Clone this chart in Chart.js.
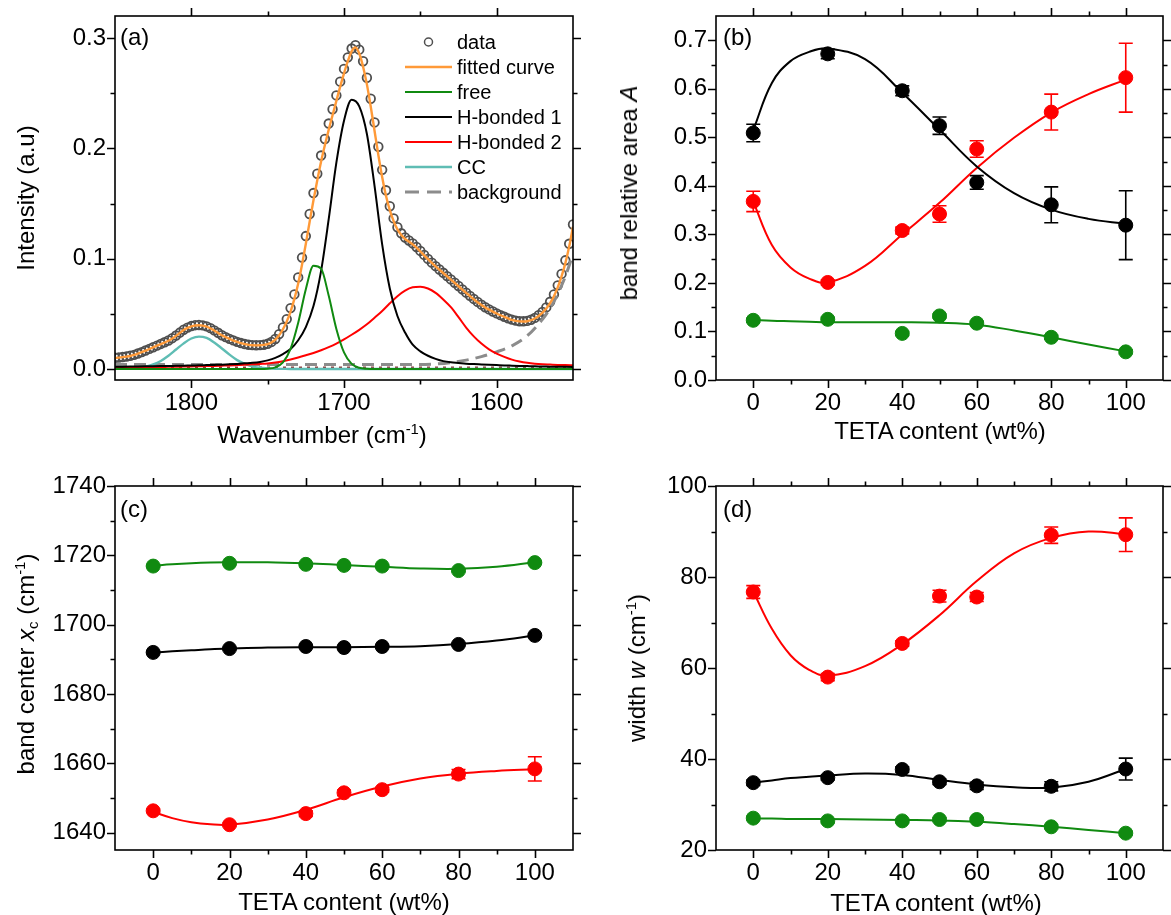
<!DOCTYPE html>
<html>
<head>
<meta charset="utf-8">
<script src="https://cdn.jsdelivr.net/npm/chart.js@4.4.1/dist/chart.umd.min.js"></script>
<style>
  body { margin: 0; background: #fff; }
  #fig { position: relative; width: 1171px; height: 915px; overflow: hidden; background: #fff;
         font-family: 'Liberation Sans', Arial, sans-serif; color: #000; }
  #fig canvas { position: absolute; }
  .lbl { position: absolute; font-size: 24px; line-height: 1; white-space: nowrap; }
  .xt { transform: translate(-50%, -50%); }
  .yt { transform: translate(-50%, -50%) rotate(-90deg); }
  .lbl sup, .lbl sub { font-size: 0.62em; line-height: 0; }
  .lbl sup { vertical-align: 0.6em; }
  .lbl sub { vertical-align: -0.3em; }
  #legend { position: absolute; left: 405px; top: 29px; font-size: 20px; line-height: 1; }
  #legend div { height: 25px; display: flex; align-items: center; white-space: nowrap; }
  #legend svg { margin-right: 5px; flex: none; }
</style>
</head>
<body>
<div id="fig">
  <canvas id="chartA" width="585" height="460" style="left:0;top:-10px"></canvas>
  <canvas id="chartB" width="586" height="460" style="left:585px;top:-10px"></canvas>
  <canvas id="chartC" width="585" height="465" style="left:0;top:450px"></canvas>
  <canvas id="chartD" width="586" height="465" style="left:585px;top:450px"></canvas>

  <div class="lbl xt" style="left:322px;top:435px">Wavenumber (cm<sup>-1</sup>)</div>
  <div class="lbl yt" style="left:26px;top:198px">Intensity (a.u)</div>
  <div class="lbl xt" style="left:940px;top:431px">TETA content (wt%)</div>
  <div class="lbl yt" style="left:629px;top:193px">band relative area <i>A</i></div>
  <div class="lbl xt" style="left:344px;top:902px">TETA content (wt%)</div>
  <div class="lbl yt" style="left:26px;top:664px">band center <i>x</i><sub>c</sub> (cm<sup>-1</sup>)</div>
  <div class="lbl xt" style="left:936px;top:903px">TETA content (wt%)</div>
  <div class="lbl yt" style="left:637px;top:668px">width <i>w</i> (cm<sup>-1</sup>)</div>

  <div class="lbl" style="left:120px;top:25px">(a)</div>
  <div class="lbl" style="left:723px;top:25px">(b)</div>
  <div class="lbl" style="left:120px;top:497px">(c)</div>
  <div class="lbl" style="left:723px;top:497px">(d)</div>

  <div id="legend"></div>
</div>

<script>
const FONT = "'Liberation Sans', Arial, sans-serif";

// ---------- (a) spectrum ----------
// wavenumber grids (cm-1), high to low
const wnFine = [];
for (let w = 1850; w >= 1550; w -= 2.5) wnFine.push(w);
const wnCoarse = [];
for (let w = 1850; w >= 1550; w -= 5) wnCoarse.push(w);

const measured = [
  0.0102, 0.0104, 0.0108, 0.0113, 0.0120, 0.0128, 0.0140, 0.0153, 0.0167, 0.0182,
  0.0197, 0.0212, 0.0227, 0.0242, 0.0258, 0.0279, 0.0303, 0.0330, 0.0356, 0.0375,
  0.0389, 0.0397, 0.0399, 0.0395, 0.0386, 0.0370, 0.0350, 0.0328, 0.0306, 0.0289,
  0.0273, 0.0259, 0.0246, 0.0235, 0.0226, 0.0220, 0.0216, 0.0215, 0.0216, 0.0220,
  0.0228, 0.0245, 0.0272, 0.0316, 0.0376, 0.0452, 0.0552, 0.0676, 0.0830, 0.1010,
  0.1205, 0.1405, 0.1595, 0.1770, 0.1935, 0.2085, 0.2225, 0.2355, 0.2480, 0.2605,
  0.2720, 0.2825, 0.2905, 0.2935, 0.2895, 0.2790, 0.2640, 0.2450, 0.2235, 0.2015,
  0.1805, 0.1620, 0.1475, 0.1365, 0.1285, 0.1230, 0.1192, 0.1165, 0.1138, 0.1106,
  0.1070, 0.1034, 0.0998, 0.0964, 0.0932, 0.0902, 0.0872, 0.0842, 0.0812, 0.0782,
  0.0752, 0.0722, 0.0692, 0.0663, 0.0635, 0.0608, 0.0583, 0.0560, 0.0540, 0.0521,
  0.0504, 0.0488, 0.0473, 0.0459, 0.0447, 0.0438, 0.0433, 0.0432, 0.0436, 0.0446,
  0.0463, 0.0487, 0.0518, 0.0558, 0.0609, 0.0675, 0.0758, 0.0862, 0.0985, 0.1135,
  0.1310
];
const fitted = [
  0.0100, 0.0103, 0.0107, 0.0112, 0.0118, 0.0127, 0.0139, 0.0152, 0.0166, 0.0181,
  0.0196, 0.0211, 0.0226, 0.0240, 0.0256, 0.0276, 0.0300, 0.0327, 0.0353, 0.0372,
  0.0386, 0.0394, 0.0396, 0.0393, 0.0384, 0.0368, 0.0349, 0.0327, 0.0305, 0.0288,
  0.0272, 0.0258, 0.0245, 0.0234, 0.0225, 0.0219, 0.0215, 0.0214, 0.0215, 0.0218,
  0.0225, 0.0240, 0.0265, 0.0305, 0.0360, 0.0430, 0.0520, 0.0635, 0.0775, 0.0945,
  0.1135, 0.1335, 0.1530, 0.1710, 0.1880, 0.2030, 0.2170, 0.2300, 0.2430, 0.2560,
  0.2680, 0.2790, 0.2880, 0.2915, 0.2860, 0.2740, 0.2580, 0.2380, 0.2160, 0.1940,
  0.1740, 0.1570, 0.1440, 0.1340, 0.1265, 0.1215, 0.1180, 0.1155, 0.1130, 0.1100,
  0.1065, 0.1030, 0.0995, 0.0962, 0.0930, 0.0900, 0.0870, 0.0840, 0.0810, 0.0780,
  0.0750, 0.0720, 0.0690, 0.0660, 0.0632, 0.0605, 0.0580, 0.0558, 0.0538, 0.0520,
  0.0503, 0.0487, 0.0472, 0.0458, 0.0445, 0.0436, 0.0431, 0.0430, 0.0433, 0.0442,
  0.0458, 0.0480, 0.0510, 0.0548, 0.0597, 0.0660, 0.0740, 0.0840, 0.0960, 0.1110,
  0.1290
];
const bandFree = [
  0, 0, 0, 0, 0, 0, 0, 0, 0, 0,
  0, 0, 0, 0, 0, 0, 0, 0, 0, 0,
  0.0003, 0.0015, 0.0060, 0.0183, 0.0419, 0.0723, 0.0935, 0.0909, 0.0663, 0.0363,
  0.0150, 0.0046, 0.0011, 0.0002, 0, 0, 0, 0, 0, 0,
  0, 0, 0, 0, 0, 0, 0, 0, 0, 0,
  0, 0, 0, 0, 0, 0, 0, 0, 0, 0,
  0
];
const bandH1 = [
  0.0020, 0.0021, 0.0022, 0.0023, 0.0024, 0.0025, 0.0026, 0.0027, 0.0029, 0.0030,
  0.0032, 0.0033, 0.0035, 0.0037, 0.0039, 0.0042, 0.0046, 0.0051, 0.0056, 0.0064,
  0.0078, 0.0100, 0.0135, 0.0180, 0.0260, 0.0380, 0.0570, 0.0890, 0.1360, 0.1870,
  0.2250, 0.2440, 0.2380, 0.2130, 0.1660, 0.1130, 0.0730, 0.0480, 0.0330, 0.0220,
  0.0160, 0.0120, 0.0092, 0.0071, 0.0060, 0.0054, 0.0048, 0.0044, 0.0041, 0.0038,
  0.0035, 0.0032, 0.0030, 0.0028, 0.0026, 0.0024, 0.0023, 0.0021, 0.0020, 0.0019,
  0.0018
];
const bandH2 = [
  0.0012, 0.0013, 0.0014, 0.0015, 0.0016, 0.0017, 0.0018, 0.0019, 0.0020, 0.0022,
  0.0023, 0.0025, 0.0026, 0.0028, 0.0030, 0.0032, 0.0035, 0.0038, 0.0042, 0.0046,
  0.0050, 0.0058, 0.0070, 0.0086, 0.0104, 0.0124, 0.0145, 0.0170, 0.0198, 0.0230,
  0.0268, 0.0310, 0.0355, 0.0405, 0.0465, 0.0525, 0.0595, 0.0660, 0.0710, 0.0740,
  0.0745, 0.0730, 0.0690, 0.0630, 0.0560, 0.0470, 0.0375, 0.0295, 0.0230, 0.0178,
  0.0140, 0.0110, 0.0085, 0.0068, 0.0056, 0.0048, 0.0043, 0.0040, 0.0037, 0.0035,
  0.0034
];
const bandCC = [
  0.0001, 0.0002, 0.0004, 0.0009, 0.0020, 0.0041, 0.0073, 0.0120, 0.0176, 0.0232,
  0.0276, 0.0293, 0.0281, 0.0240, 0.0186, 0.0130, 0.0080, 0.0046, 0.0022, 0.0011,
  0.0005, 0.0002, 0.0001, 0, 0, 0, 0, 0, 0, 0,
  0, 0, 0, 0, 0, 0, 0, 0, 0, 0,
  0, 0, 0, 0, 0, 0, 0, 0, 0, 0,
  0, 0, 0, 0, 0, 0, 0, 0, 0, 0,
  0
];
const bgWn  = [1850, 1750, 1650, 1640, 1630, 1620, 1610, 1600, 1590, 1580, 1570, 1565, 1560, 1555, 1550];
const bgVal = [0.0040, 0.0040, 0.0040, 0.0045, 0.0058, 0.0080, 0.0112, 0.0155, 0.0210, 0.0300, 0.0450, 0.0550, 0.0680, 0.0840, 0.1040];
const baseWn  = [1850, 1550];
const baseVal = [0.0012, 0.0012];

// axis ticks for (a)
const wnMajor = [1800, 1700, 1600];
const wnMinor = [1750, 1650];
const intMajor = [0, 0.1, 0.2, 0.3];
const intMinor = [0.05, 0.15, 0.25];

// ---------- (b)-(d) band parameters vs TETA content ----------
const teta = [0, 20, 40, 50, 60, 80, 100];
const fitX = [0, 5, 10, 15, 20, 30, 40, 50, 60, 70, 80, 90, 100];

const areaFree = [0.123, 0.125, 0.096, 0.132, 0.117, 0.088, 0.058];
const areaFreeErr = [0.004, 0.004, 0.004, 0.004, 0.004, 0.004, 0.004];
const areaH1 = [0.509, 0.672, 0.596, 0.524, 0.407, 0.361, 0.319];
const areaH1Err = [0.018, 0.010, 0.010, 0.018, 0.014, 0.037, 0.071];
const areaH2 = [0.368, 0.201, 0.308, 0.342, 0.476, 0.552, 0.623];
const areaH2Err = [0.021, 0.005, 0.007, 0.017, 0.017, 0.037, 0.071];
const areaFreeFit = [0.124, 0.122, 0.121, 0.120, 0.119, 0.119, 0.119, 0.118, 0.114, 0.102, 0.088, 0.073, 0.059];
const areaH1Fit = [0.515, 0.612, 0.657, 0.676, 0.683, 0.661, 0.592, 0.516, 0.440, 0.385, 0.351, 0.332, 0.322];
const areaH2Fit = [0.3675, 0.278, 0.232, 0.209, 0.201, 0.235, 0.300, 0.365, 0.437, 0.499, 0.551, 0.589, 0.619];

const centerFree = [1716.9, 1717.7, 1717.4, 1717.1, 1716.9, 1715.6, 1717.9];
const centerFreeErr = [0.3, 0.3, 0.3, 0.3, 0.3, 0.3, 0.3];
const centerH1 = [1692.0, 1693.1, 1693.7, 1693.4, 1693.7, 1694.3, 1696.9];
const centerH1Err = [0.3, 0.3, 0.3, 0.3, 0.3, 0.4, 0.5];
const centerH2 = [1646.3, 1642.3, 1645.5, 1651.5, 1652.4, 1656.9, 1658.4];
const centerH2Err = [0.5, 0.5, 0.8, 0.8, 0.7, 1.3, 3.5];
const centerFreeFit = [1717.0, 1717.4, 1717.7, 1717.9, 1718.0, 1718.0, 1717.7, 1717.2, 1716.7, 1716.2, 1716.1, 1716.7, 1718.0];
const centerH1Fit = [1692.0, 1692.3, 1692.6, 1692.9, 1693.1, 1693.4, 1693.5, 1693.5, 1693.6, 1693.8, 1694.4, 1695.4, 1696.9];
const centerH2Fit = [1646.0, 1644.2, 1643.0, 1642.4, 1642.3, 1643.8, 1646.6, 1650.2, 1653.3, 1655.6, 1657.0, 1657.8, 1658.3];

const widthFree = [27.0, 26.4, 26.4, 26.7, 26.7, 25.1, 23.7];
const widthFreeErr = [0.4, 0.4, 0.4, 0.4, 0.4, 0.4, 0.4];
const widthH1 = [34.8, 35.9, 37.7, 35.0, 34.1, 34.0, 37.8];
const widthH1Err = [0.6, 0.5, 0.6, 0.6, 0.8, 1.0, 2.4];
const widthH2 = [76.7, 58.0, 65.4, 75.8, 75.6, 89.2, 89.3];
const widthH2Err = [1.4, 0.8, 0.6, 1.3, 1.0, 1.8, 3.7];
const widthFreeFit = [26.9, 26.9, 26.8, 26.8, 26.8, 26.7, 26.6, 26.5, 26.2, 25.7, 25.1, 24.4, 23.7];
const widthH1Fit = [34.8, 35.3, 35.8, 36.1, 36.4, 36.8, 36.5, 35.4, 34.4, 33.8, 33.7, 35.0, 37.8];
const widthH2Fit = [76.8, 68.6, 62.8, 59.6, 58.3, 60.4, 65.2, 71.6, 79.1, 85.2, 88.6, 90.0, 89.4];

const tetaMajor = [0, 20, 40, 60, 80, 100];
const tetaMinor = [10, 30, 50, 70, 90];
const areaMajor = [0, 0.1, 0.2, 0.3, 0.4, 0.5, 0.6, 0.7];
const areaMinor = [0.05, 0.15, 0.25, 0.35, 0.45, 0.55, 0.65];
const centerMajor = [1640, 1660, 1680, 1700, 1720, 1740];
const centerMinor = [1650, 1670, 1690, 1710, 1730];
const widthMajor = [20, 40, 60, 80, 100];
const widthMinor = [30, 50, 70, 90];

const BLACK = '#000000';
const RED = '#ff0000';
const GREEN = '#108a10';
const ORANGE = '#ff9a38';
const TEAL = '#5fbdb4';
const GREY = '#8c8c8c';
const DATA = '#4f4f4f';
const BROWN = '#8b3a3a';

Chart.defaults.font.family = FONT;
Chart.defaults.color = '#000';

// box frame with outward major/minor ticks on all four sides
const frameTicks = {
  id: 'frameTicks',
  afterDraw(chart, args, o) {
    const { ctx, chartArea: a } = chart;
    const xs = chart.scales.x, ys = chart.scales.y;
    ctx.save();
    ctx.strokeStyle = '#000';
    ctx.lineWidth = 1.6;
    ctx.beginPath();
    const seg = (x1, y1, x2, y2) => { ctx.moveTo(x1, y1); ctx.lineTo(x2, y2); };
    [[o.xMajor, 8], [o.xMinor, 4.5]].forEach(([vals, len]) => vals.forEach(v => {
      const p = Math.round(xs.getPixelForValue(v)) + 0.5;
      seg(p, a.bottom, p, a.bottom + len);
      seg(p, a.top, p, a.top - len);
    }));
    [[o.yMajor, 8], [o.yMinor, 4.5]].forEach(([vals, len]) => vals.forEach(v => {
      const p = Math.round(ys.getPixelForValue(v)) + 0.5;
      seg(a.left, p, a.left - len, p);
      seg(a.right, p, a.right + len, p);
    }));
    ctx.stroke();
    ctx.strokeRect(a.left, a.top, a.right - a.left, a.bottom - a.top);
    ctx.restore();
  }
};

// vertical error bars with caps, read from dataset.errors
const errorBars = {
  id: 'errorBars',
  beforeDatasetsDraw(chart) {
    const { ctx } = chart;
    const xs = chart.scales.x, ys = chart.scales.y;
    chart.data.datasets.forEach(ds => {
      if (!ds.errors) return;
      ctx.save();
      ctx.strokeStyle = ds.borderColor;
      ctx.lineWidth = 1.6;
      ctx.beginPath();
      ds.data.forEach((pt, i) => {
        const e = ds.errors[i];
        const px = xs.getPixelForValue(pt.x);
        const top = ys.getPixelForValue(pt.y + e);
        const bot = ys.getPixelForValue(pt.y - e);
        ctx.moveTo(px, top); ctx.lineTo(px, bot);
        ctx.moveTo(px - 7, top); ctx.lineTo(px + 7, top);
        ctx.moveTo(px - 7, bot); ctx.lineTo(px + 7, bot);
      });
      ctx.stroke();
      ctx.restore();
    });
  }
};

Chart.register(frameTicks, errorBars);

const pts = (xs, ys) => xs.map((x, i) => ({ x, y: ys[i] }));

function axis(c, fit) {
  return {
    type: 'linear', min: c.min, max: c.max, reverse: !!c.reverse,
    grid: { display: false, drawTicks: false },
    border: { display: false },
    ticks: { font: { size: 24, family: FONT }, color: '#000', padding: c.pad,
             autoSkip: false, maxRotation: 0, callback: c.fmt },
    afterBuildTicks: s => { s.ticks = c.major.map(v => ({ value: v })); },
    afterFit: fit
  };
}

function makeChart(id, box, xc, yc, datasets) {
  return new Chart(document.getElementById(id), {
    type: 'scatter',
    data: { datasets },
    options: {
      responsive: false, animation: false, devicePixelRatio: 1, events: [],
      layout: { padding: { top: box.top, right: box.w - box.right, left: 0, bottom: 0 } },
      scales: {
        x: axis(xc, s => { s.height = box.h - box.bottom; }),
        y: axis(yc, s => { s.width = box.left; })
      },
      plugins: {
        legend: { display: false }, tooltip: { enabled: false },
        frameTicks: { xMajor: xc.major, xMinor: xc.minor, yMajor: yc.major, yMinor: yc.minor }
      }
    }
  });
}

function line(label, xs, ys, color, width, extra) {
  return Object.assign({ label, data: pts(xs, ys), showLine: true, pointRadius: 0,
    borderColor: color, borderWidth: width, cubicInterpolationMode: 'monotone' }, extra || {});
}

// ---------- chart (a) ----------
const datasetsA = [
  line('fitted curve', wnFine, fitted, ORANGE, 2.4, { order: 0 }),
  line('free', wnCoarse, bandFree, GREEN, 2, { order: 2 }),
  line('H-bonded 1', wnCoarse, bandH1, BLACK, 2, { order: 3 }),
  line('H-bonded 2', wnCoarse, bandH2, RED, 2, { order: 4 }),
  line('CC', wnCoarse, bandCC, TEAL, 2.4, { order: 5 }),
  line('background', bgWn, bgVal, GREY, 3, { order: 6, borderDash: [12, 7] }),
  line('', baseWn, baseVal, BROWN, 2.5, { order: 7, borderDash: [3, 5] }),
  { label: 'data', data: pts(wnFine, measured), showLine: false, pointRadius: 4.3,
    pointBorderWidth: 1.8, borderColor: DATA, backgroundColor: 'rgba(255,255,255,0)', order: 8 }
];
makeChart('chartA', { w: 585, h: 460, left: 115, right: 573, top: 26, bottom: 390 },
  { min: 1550, max: 1850, reverse: true, major: wnMajor, minor: wnMinor, pad: 9, fmt: v => String(v) },
  { min: -0.01, max: 0.32, major: intMajor, minor: intMinor, pad: 9, fmt: v => v.toFixed(1) },
  datasetsA);

// legend for (a), built from the dataset styles
const legendOrder = ['data', 'fitted curve', 'free', 'H-bonded 1', 'H-bonded 2', 'CC', 'background'];
document.getElementById('legend').innerHTML = legendOrder.map(name => {
  const ds = datasetsA.find(d => d.label === name);
  let mark;
  if (!ds.showLine) {
    mark = `<circle cx="23.5" cy="6" r="4" fill="none" stroke="${ds.borderColor}" stroke-width="1.5"/>`;
  } else {
    const dash = ds.borderDash ? `stroke-dasharray="14 8"` : '';
    mark = `<line x1="0" y1="6" x2="47" y2="6" stroke="${ds.borderColor}" stroke-width="${ds.borderWidth}" ${dash}/>`;
  }
  return `<div><svg width="47" height="12">${mark}</svg>${name}</div>`;
}).join('');

// ---------- charts (b)-(d) ----------
function scatter(label, ys, errs, color) {
  return { label, data: pts(teta, ys), errors: errs, showLine: false, pointRadius: 7,
    pointBorderWidth: 1, borderColor: color, backgroundColor: color, order: 0 };
}
function fitLine(ys, color) {
  return { label: '', data: pts(fitX, ys), showLine: true, pointRadius: 0,
    borderColor: color, borderWidth: 2, tension: 0.4, order: 1 };
}
const tetaAxis = { min: -10, max: 110, major: tetaMajor, minor: tetaMinor, pad: 9, fmt: v => String(v) };

makeChart('chartB', { w: 586, h: 460, left: 131, right: 585, top: 26, bottom: 390 }, tetaAxis,
  { min: 0, max: 0.75, major: areaMajor, minor: areaMinor, pad: 9, fmt: v => v.toFixed(1) },
  [
    scatter('free', areaFree, areaFreeErr, GREEN),
    scatter('H-bonded 1', areaH1, areaH1Err, BLACK),
    scatter('H-bonded 2', areaH2, areaH2Err, RED),
    fitLine(areaFreeFit, GREEN), fitLine(areaH1Fit, BLACK), fitLine(areaH2Fit, RED)
  ]);

makeChart('chartC', { w: 585, h: 465, left: 115, right: 573, top: 36, bottom: 400 }, tetaAxis,
  { min: 1635, max: 1740, major: centerMajor, minor: centerMinor, pad: 9, fmt: v => String(v) },
  [
    scatter('free', centerFree, centerFreeErr, GREEN),
    scatter('H-bonded 1', centerH1, centerH1Err, BLACK),
    scatter('H-bonded 2', centerH2, centerH2Err, RED),
    fitLine(centerFreeFit, GREEN), fitLine(centerH1Fit, BLACK), fitLine(centerH2Fit, RED)
  ]);

makeChart('chartD', { w: 586, h: 465, left: 131, right: 585, top: 36, bottom: 400 }, tetaAxis,
  { min: 20, max: 100, major: widthMajor, minor: widthMinor, pad: 9, fmt: v => String(v) },
  [
    scatter('free', widthFree, widthFreeErr, GREEN),
    scatter('H-bonded 1', widthH1, widthH1Err, BLACK),
    scatter('H-bonded 2', widthH2, widthH2Err, RED),
    fitLine(widthFreeFit, GREEN), fitLine(widthH1Fit, BLACK), fitLine(widthH2Fit, RED)
  ]);
</script>
</body>
</html>
